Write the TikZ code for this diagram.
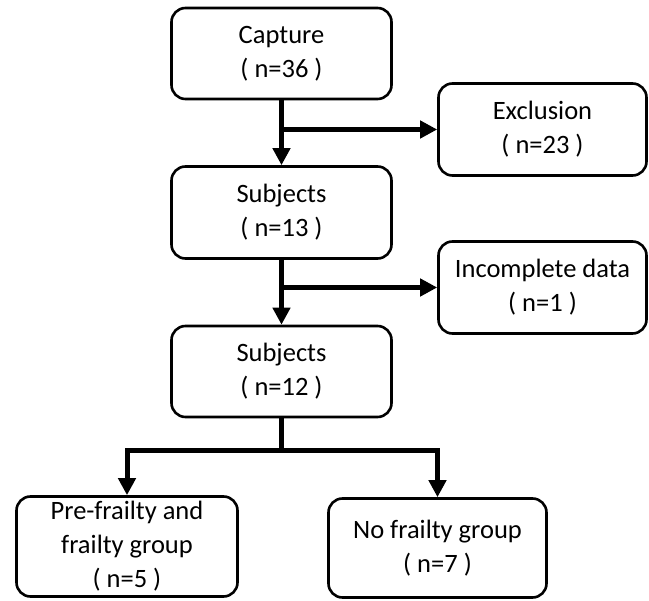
\documentclass[tikz,border=0pt]{standalone}
\usepackage{fontspec}
\setmainfont{Carlito}
\usetikzlibrary{arrows.meta}
\begin{document}
\begin{tikzpicture}[x=1pt,y=-1pt,
    stagebox/.style={draw,line width=2.6pt,rounded corners=14pt,align=center,
      minimum width=220pt,minimum height=91pt,inner sep=0pt,
      font=\fontsize{26.5}{34}\selectfont},
    flow/.style={line width=5pt,-{Triangle[length=17pt,width=17pt]}}]
  \useasboundingbox (0,0) rectangle (649,601);
  \node[stagebox] (capture) at (281.5,53.5) {Capture\\( n=36 )};
  \node[stagebox,minimum width=208pt,minimum height=92pt] (exclusion) at (542.5,129.5) {Exclusion\\( n=23 )};
  \node[stagebox,minimum height=92pt] (subjA) at (281.5,212.5) {Subjects\\( n=13 )};
  \node[stagebox,minimum width=208pt,minimum height=92pt] (incomplete) at (542.5,287.5) {Incomplete data\\( n=1 )};
  \node[stagebox] (subjB) at (281.5,371.5) {Subjects\\( n=12 )};
  \node[stagebox,minimum width=221pt,minimum height=100pt] (prefrail) at (127,546.5) {Pre-frailty and\\frailty group\\( n=5 )};
  \node[stagebox,minimum width=218pt,minimum height=99pt] (nofrail) at (437.5,548) {No frailty group\\( n=7 )};
  \coordinate (split) at (281.5,451);
  % main flow
  \draw[flow] (capture) -- (subjA);
  \draw[flow] (capture.south |- exclusion.west) -- (exclusion.west);
  \draw[flow] (subjA) -- (subjB);
  \draw[flow] (subjA.south |- incomplete.west) -- (incomplete.west);
  % split into groups
  \draw[line width=5pt] (subjB.south) -- (split);
  \draw[flow] (split) -| (prefrail.north);
  \draw[flow] (split) -| (nofrail.north);
\end{tikzpicture}
\end{document}
